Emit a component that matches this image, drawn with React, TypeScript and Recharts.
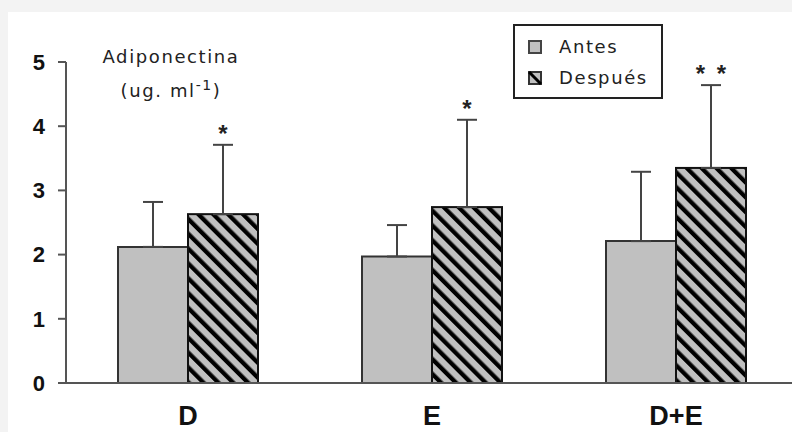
import React from 'react';
import { BarChart, Bar, XAxis, YAxis, ErrorBar } from 'recharts';

const categories = ['D', 'E', 'D+E'];
const antes = [2.12, 1.97, 2.21];
const antesSd = [0.7, 0.49, 1.08];
const despues = [2.63, 2.74, 3.35];
const despuesSd = [1.08, 1.36, 1.29];
const significance = ['*', '*', '**'];
const yTicks = [0, 1, 2, 3, 4, 5];

const data = categories.map((cat, i) => ({
  cat,
  antes: antes[i],
  antesErr: [0, antesSd[i]],
  despues: despues[i],
  despuesErr: [0, despuesSd[i]],
  sig: significance[i],
}));

const textFont = '"DejaVu Sans", Verdana, sans-serif';
const axisFont = '"Liberation Sans", Arial, sans-serif';

// hatched bar + significance stars above its error bar
const HatchBar = (props: any) => {
  const { x, y, width, height, payload } = props;
  const pxPerUnit = height / payload.despues;
  const capY = y - payload.despuesErr[1] * pxPerUnit;
  const stars = payload.sig.split('');
  const cx = x + width / 2;
  return (
    <g>
      <rect x={x} y={y} width={width} height={height} fill="url(#hatch)" stroke="#111" strokeWidth={2} />
      {stars.map((s: string, i: number) => (
        <text
          key={i}
          x={cx + (i - (stars.length - 1) / 2) * 21}
          y={capY - 3}
          textAnchor="middle"
          fontSize={24}
          fontWeight="bold"
          fontFamily={axisFont}
          fill="#222"
        >
          {s}
        </text>
      ))}
    </g>
  );
};

const XTick = ({ x, y, payload }: any) => (
  <text
    x={x}
    y={y + 32}
    dy="0.355em"
    textAnchor="middle"
    fontSize={27}
    fontWeight="bold"
    fontFamily={axisFont}
    fill="#111"
  >
    {payload.value}
  </text>
);

const App = () => {
  return (
    <div style={{ position: 'fixed', left: 0, top: 0, width: 792, height: 432, background: '#f3f3f3' }}>
      <div
        style={{
          position: 'absolute',
          left: 8,
          top: 12,
          width: 784,
          height: 420,
          background: '#fff',
          overflow: 'hidden',
        }}
      >
        <BarChart
          width={790}
          height={420}
          data={data}
          margin={{ top: 50, right: 0, bottom: 0, left: 0 }}
          barSize={70}
          barGap={0}
        >
          <defs>
            <pattern id="hatch" patternUnits="userSpaceOnUse" width={10.5} height={10.5} patternTransform="rotate(-45)">
              <rect x={0} y={0} width={10.5} height={10.5} fill="#c0c0c0" />
              <rect x={0} y={0} width={4.3} height={10.5} fill="#000" />
            </pattern>
          </defs>
          <XAxis
            dataKey="cat"
            height={49}
            axisLine={{ stroke: '#555', strokeWidth: 2 }}
            tickLine={false}
            tickSize={0}
            tickMargin={0}
            tick={<XTick />}
            interval={0}
          />
          <YAxis
            width={58}
            domain={[0, 5]}
            ticks={yTicks}
            axisLine={{ stroke: '#555', strokeWidth: 2 }}
            tickLine={{ stroke: '#555', strokeWidth: 2 }}
            tickSize={8}
            tickMargin={13}
            tick={{ fontSize: 22, fontWeight: 'bold', fill: '#111', fontFamily: axisFont }}
          />
          <Bar dataKey="antes" fill="#c0c0c0" stroke="#333" strokeWidth={2} isAnimationActive={false}>
            <ErrorBar dataKey="antesErr" width={10} stroke="#444" strokeWidth={2} />
          </Bar>
          <Bar dataKey="despues" shape={<HatchBar />} isAnimationActive={false}>
            <ErrorBar dataKey="despuesErr" width={10} stroke="#444" strokeWidth={2} />
          </Bar>
        </BarChart>

        <div
          style={{
            position: 'absolute',
            left: 58,
            top: 34,
            width: 210,
            textAlign: 'center',
            fontFamily: textFont,
            fontSize: 18,
            letterSpacing: 1.6,
            color: '#222',
            lineHeight: '22px',
          }}
        >
          <div>Adiponectina</div>
          <div style={{ marginTop: 12 }}>
            (ug. ml<sup style={{ fontSize: 14, lineHeight: 0 }}>-1</sup>)
          </div>
        </div>

        <div
          style={{
            position: 'absolute',
            left: 505,
            top: 12,
            width: 150,
            height: 75,
            boxSizing: 'border-box',
            border: '2px solid #222',
            background: '#fff',
            fontFamily: textFont,
            fontSize: 18,
            letterSpacing: 1.6,
            color: '#222',
          }}
        >
          <svg width={14} height={14} style={{ position: 'absolute', left: 13, top: 14 }}>
            <rect x={1} y={1} width={12} height={12} fill="#c0c0c0" stroke="#444" strokeWidth={2} />
          </svg>
          <div style={{ position: 'absolute', left: 44, top: 9, lineHeight: '24px' }}>Antes</div>
          <svg width={14} height={14} style={{ position: 'absolute', left: 13, top: 45 }}>
            <rect x={1} y={1} width={12} height={12} fill="#c0c0c0" stroke="#333" strokeWidth={2} />
            <line x1={1} y1={1} x2={13} y2={13} stroke="#000" strokeWidth={3} />
          </svg>
          <div style={{ position: 'absolute', left: 44, top: 40, lineHeight: '24px' }}>Después</div>
        </div>
      </div>
    </div>
  );
};

export default App;
